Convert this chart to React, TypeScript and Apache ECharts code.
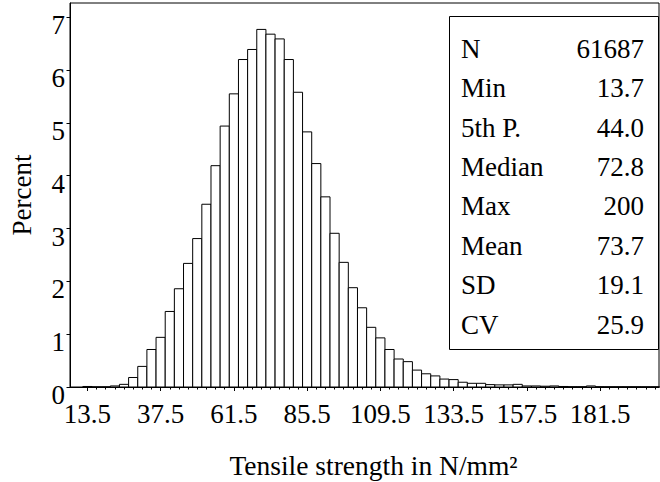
import React, { useEffect, useRef } from "react";
import * as echarts from "echarts";

// Histogram bins: centers (N/mm²) and percent values
const binCenters: number[] = [
  13.5, 16.5, 19.5, 22.5, 25.5, 28.5, 31.5, 34.5, 37.5, 40.5,
  43.5, 46.5, 49.5, 52.5, 55.5, 58.5, 61.5, 64.5, 67.5, 70.5,
  73.5, 76.5, 79.5, 82.5, 85.5, 88.5, 91.5, 94.5, 97.5, 100.5,
  103.5, 106.5, 109.5, 112.5, 115.5, 118.5, 121.5, 124.5, 127.5, 130.5,
  133.5, 136.5, 139.5, 142.5, 145.5, 148.5, 151.5, 154.5, 157.5, 160.5,
  163.5, 166.5, 169.5, 172.5, 175.5, 178.5, 181.5, 184.5, 187.5, 190.5,
  193.5, 196.5, 199.5,
];
const percentValues: number[] = [
  0.01, 0, 0, 0.02, 0.05, 0.18, 0.39, 0.71, 0.94, 1.43,
  1.86, 2.34, 2.81, 3.46, 4.19, 4.94, 5.55, 6.2, 6.39, 6.77,
  6.68, 6.59, 6.2, 5.58, 4.83, 4.23, 3.6, 2.91, 2.36, 1.88,
  1.5, 1.13, 0.93, 0.71, 0.53, 0.48, 0.32, 0.25, 0.21, 0.15,
  0.14, 0.09, 0.07, 0.07, 0.045, 0.04, 0.04, 0.05, 0.02, 0.02,
  0.015, 0.02, 0.01, 0.005, 0.005, 0.02, 0.005, 0.003, 0.003, 0.003,
  0.003, 0.002, 0.002,
];
const binWidth = 3;

const xMajorTicks: number[] = [13.5, 37.5, 61.5, 85.5, 109.5, 133.5, 157.5, 181.5];
const xMinorTicks: number[] = binCenters;
const yTicks: number[] = [0, 1, 2, 3, 4, 5, 6, 7];

const statLabels: string[] = ["N", "Min", "5th P.", "Median", "Max", "Mean", "SD", "CV"];
const statValues: string[] = ["61687", "13.7", "44.0", "72.8", "200", "73.7", "19.1", "25.9"];

const FONT = "'Liberation Serif', 'Times New Roman', serif";
const FS = 27;

export default function App() {
  const ref = useRef<HTMLDivElement>(null);

  useEffect(() => {
    if (!ref.current) return;
    const chart = echarts.init(ref.current, undefined, { renderer: "svg" });

    const xMin = 7.8;
    const xMax = 200.8;

    const statGraphics: any[] = [
      {
        type: "rect",
        shape: { x: 449.5, y: 16.5, width: 209, height: 333 },
        style: { fill: "#fff", stroke: "#000", lineWidth: 1 },
        z: 10,
      },
    ];
    statLabels.forEach((lab, i) => {
      const cy = 48.8 + i * 39.4;
      statGraphics.push({
        type: "text",
        x: 461,
        y: cy,
        style: {
          text: lab,
          font: `${FS}px ${FONT}`,
          fill: "#000",
          textAlign: "left",
          textVerticalAlign: "middle",
        },
        z: 11,
      });
      statGraphics.push({
        type: "text",
        x: 644,
        y: cy,
        style: {
          text: statValues[i],
          font: `${FS}px ${FONT}`,
          fill: "#000",
          textAlign: "right",
          textVerticalAlign: "middle",
        },
        z: 11,
      });
    });

    const option: any = {
      animation: false,
      backgroundColor: "#fff",
      textStyle: { fontFamily: FONT },
      grid: {
        left: 70,
        top: 3,
        right: 1,
        bottom: 95,
        show: true,
        borderColor: "#000",
        borderWidth: 1,
        backgroundColor: "transparent",
        containLabel: false,
        outerBoundsMode: "none",
      },
      xAxis: [
        {
          type: "value",
          min: xMin,
          max: xMax,
          position: "bottom",
          name: "Tensile strength in N/mm²",
          nameLocation: "middle",
          nameGap: 64,
          nameTextStyle: {
            fontSize: 27.5,
            fontFamily: FONT,
            color: "#000",
            padding: [0, 0, 0, 18],
          },
          axisLine: { show: true, lineStyle: { color: "#000", width: 1 } },
          axisTick: {
            show: true,
            length: 4,
            customValues: xMajorTicks,
            lineStyle: { color: "#000" },
          },
          axisLabel: {
            show: true,
            customValues: xMajorTicks,
            fontSize: FS,
            fontFamily: FONT,
            color: "#000",
            margin: 13,
            hideOverlap: false,
            formatter: (v: number) => v.toFixed(1),
          },
          splitLine: { show: false },
        },
        {
          type: "value",
          min: xMin,
          max: xMax,
          position: "bottom",
          axisLine: { show: false },
          axisTick: {
            show: true,
            length: 2.5,
            customValues: xMinorTicks,
            lineStyle: { color: "#000" },
          },
          axisLabel: { show: false },
          splitLine: { show: false },
        },
      ],
      yAxis: {
        type: "value",
        min: 0,
        max: 7.27,
        name: "Percent",
        nameLocation: "middle",
        nameGap: 35,
        nameRotate: 90,
        nameTextStyle: { fontSize: FS, fontFamily: FONT, color: "#000" },
        axisLine: { show: true, lineStyle: { color: "#000", width: 1 } },
        axisTick: {
          show: true,
          length: 3.5,
          customValues: yTicks,
          lineStyle: { color: "#000" },
        },
        axisLabel: {
          show: true,
          customValues: yTicks,
          fontSize: FS,
          fontFamily: FONT,
          color: "#000",
          margin: 5,
          verticalAlign: "top",
          lineHeight: 16,
        },
        splitLine: { show: false },
      },
      series: [
        {
          type: "custom",
          xAxisIndex: 0,
          yAxisIndex: 0,
          encode: { x: 0, y: 1 },
          data: binCenters.map((c, i) => [c, percentValues[i]]),
          renderItem: (params: any, api: any) => {
            const x = api.value(0);
            const y = api.value(1);
            const p0 = api.coord([x - binWidth / 2, y]);
            const p1 = api.coord([x + binWidth / 2, 0]);
            return {
              type: "rect",
              shape: {
                x: p0[0],
                y: p0[1],
                width: p1[0] - p0[0],
                height: p1[1] - p0[1],
              },
              style: { fill: "#fff", stroke: "#000", lineWidth: 1 },
            };
          },
        },
      ],
      graphic: statGraphics,
    };

    chart.setOption(option);
    return () => chart.dispose();
  }, []);

  return (
    <div
      ref={ref}
      style={{ position: "fixed", left: 0, top: 0, width: 660, height: 482 }}
    />
  );
}
